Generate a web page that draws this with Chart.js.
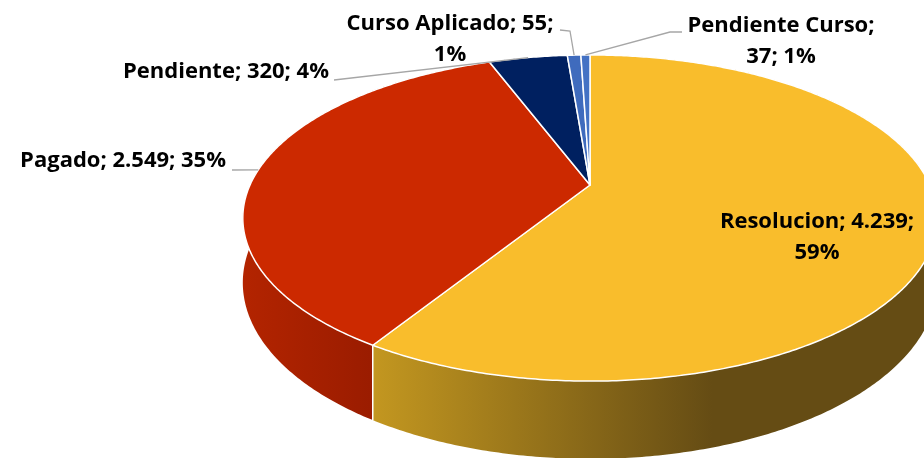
<!DOCTYPE html>
<html>
<head>
<meta charset="utf-8">
<script src="https://cdn.jsdelivr.net/npm/chart.js@4.4.1/dist/chart.umd.min.js"></script>
<style>
  html, body { margin: 0; padding: 0; background: #ffffff; }
</style>
</head>
<body>
<canvas id="pie" width="924" height="458"></canvas>
<script>
// datos del grafico
const categories = ['Resolucion', 'Pagado', 'Pendiente', 'Curso Aplicado', 'Pendiente Curso'];
const values = [4239, 2549, 320, 55, 37];

// colores: cara superior y pared lateral (claro -> oscuro)
const topColors = ['#f9bd2c', '#cc2900', '#002060', '#3f6bbd', '#4472c4'];
const wallLight = ['#c39720', '#b32400', '#001a4d', '#30559a', '#36599c'];
const wallDark = ['#654c14', '#9a1c00', '#00143a', '#25427a', '#2a467c'];

// donde va cada etiqueta (texto) y sus lineas guia
const labelPos = [
    { x: 817, y: 222, align: 'center', inside: true },
    { x: 226, y: 161, align: 'right', leader: [[232, 170]] },
    { x: 329, y: 72, align: 'right', leader: [[334, 80]] },
    { x: 450, y: 24, align: 'center', leader: [[560, 30], [570, 31]] },
    { x: 781, y: 26, align: 'center', leader: [[682, 32], [670, 32]] }
];

// perspectiva del pastel
const tilt = { k: 0.2025, squash: 0.46, depth: 62 };

function fmtNum(n) {
    return String(n).replace(/\B(?=(\d{3})+(?!\d))/g, '.');
}

function labelLines(i) {
    const total = values.reduce((a, b) => a + b, 0);
    const pct = Math.round(values[i] / total * 100) + '%';
    const txt = categories[i] + '; ' + fmtNum(values[i]) + ';';
    if (i === 0) return [txt, pct];
    if (i === 1 || i === 2) return [txt + ' ' + pct];
    if (i === 3) return [txt, pct];
    return [categories[i] + ';', fmtNum(values[i]) + '; ' + pct];
}

function project(arc, angle, drop) {
    const u = Math.cos(angle), v = Math.sin(angle);
    const f = 1 / (1 - tilt.k * v);
    return {
        x: arc.x + arc.outerRadius * u * f,
        y: arc.y + arc.outerRadius * tilt.squash * v * f + (drop || 0) * f
    };
}

function edgePoints(arc, a0, a1, drop) {
    const pts = [];
    const steps = Math.max(2, Math.ceil(Math.abs(a1 - a0) / 0.01));
    for (let s = 0; s <= steps; s++) {
        pts.push(project(arc, a0 + (a1 - a0) * s / steps, drop));
    }
    return pts;
}

const tiltPlugin = {
    id: 'tilt3d',
    beforeDatasetsDraw(chart) {
        const ctx = chart.ctx;
        const arcs = chart.getDatasetMeta(0).data;
        const front = Math.asin(tilt.k);

        // paredes laterales, de atras hacia adelante
        const order = arcs.map((a, i) => i).sort((i, j) => {
            const mi = Math.sin((arcs[i].startAngle + arcs[i].endAngle) / 2);
            const mj = Math.sin((arcs[j].startAngle + arcs[j].endAngle) / 2);
            return mi - mj;
        });
        ctx.save();
        order.forEach(i => {
            const arc = arcs[i];
            const top = edgePoints(arc, arc.startAngle, arc.endAngle, 0);
            const bot = edgePoints(arc, arc.startAngle, arc.endAngle, tilt.depth).reverse();
            // parte visible para el degradado
            const vis0 = Math.max(arc.startAngle, front);
            const vis1 = Math.min(arc.endAngle, Math.PI - front);
            let xs = top.map(p => p.x);
            if (vis1 > vis0) xs = edgePoints(arc, vis0, vis1, 0).map(p => p.x);
            const xl = Math.min(...xs), xr = Math.max(...xs);
            const g = ctx.createLinearGradient(xl, 0, xr + 1, 0);
            g.addColorStop(0, wallLight[i]);
            g.addColorStop(i === 0 ? 0.6 : 1, wallDark[i]);
            g.addColorStop(1, wallDark[i]);
            ctx.beginPath();
            top.concat(bot).forEach((p, n) => n ? ctx.lineTo(p.x, p.y) : ctx.moveTo(p.x, p.y));
            ctx.closePath();
            ctx.fillStyle = g;
            ctx.fill();
        });

        // aristas verticales visibles
        ctx.strokeStyle = '#ffffff';
        ctx.lineWidth = 1.5;
        arcs.forEach(arc => {
            const a = arc.startAngle;
            if (Math.sin(a) > tilt.k) {
                const p = project(arc, a, 0), q = project(arc, a, tilt.depth);
                ctx.beginPath();
                ctx.moveTo(p.x, p.y);
                ctx.lineTo(q.x, q.y);
                ctx.stroke();
            }
        });

        // cara superior
        arcs.forEach((arc, i) => {
            const pts = edgePoints(arc, arc.startAngle, arc.endAngle, 0);
            ctx.beginPath();
            ctx.moveTo(arc.x, arc.y);
            pts.forEach(p => ctx.lineTo(p.x, p.y));
            ctx.closePath();
            ctx.fillStyle = arc.options.backgroundColor;
            ctx.fill();
            ctx.lineJoin = 'round';
            ctx.strokeStyle = '#ffffff';
            ctx.lineWidth = 1.5;
            ctx.stroke();
        });
        ctx.restore();
        return false;
    },
    afterDraw(chart) {
        const ctx = chart.ctx;
        const arcs = chart.getDatasetMeta(0).data;
        ctx.save();
        // lineas guia
        ctx.strokeStyle = '#a6a6a6';
        ctx.lineWidth = 1.3;
        arcs.forEach((arc, i) => {
            const lp = labelPos[i];
            if (!lp.leader) return;
            const m = project(arc, (arc.startAngle + arc.endAngle) / 2, 0);
            ctx.beginPath();
            lp.leader.forEach((p, n) => n ? ctx.lineTo(p[0], p[1]) : ctx.moveTo(p[0], p[1]));
            ctx.lineTo(m.x, m.y);
            ctx.stroke();
        });
        // textos
        ctx.fillStyle = '#000000';
        ctx.font = 'bold 22px "Open Sans"';
        ctx.textBaseline = 'middle';
        arcs.forEach((arc, i) => {
            const lp = labelPos[i];
            ctx.textAlign = lp.align;
            labelLines(i).forEach((t, n) => ctx.fillText(t, lp.x, lp.y + n * 31));
        });
        ctx.restore();
    }
};

new Chart(document.getElementById('pie'), {
    type: 'pie',
    data: {
        labels: categories,
        datasets: [{
            data: values,
            backgroundColor: topColors,
            borderColor: '#ffffff',
            borderWidth: 1.5
        }]
    },
    options: {
        responsive: false,
        animation: false,
        radius: 340,
        layout: { padding: { left: 256, right: 0, top: 0, bottom: 88 } },
        plugins: {
            legend: { display: false },
            tooltip: { enabled: false }
        }
    },
    plugins: [tiltPlugin]
});
</script>
</body>
</html>
